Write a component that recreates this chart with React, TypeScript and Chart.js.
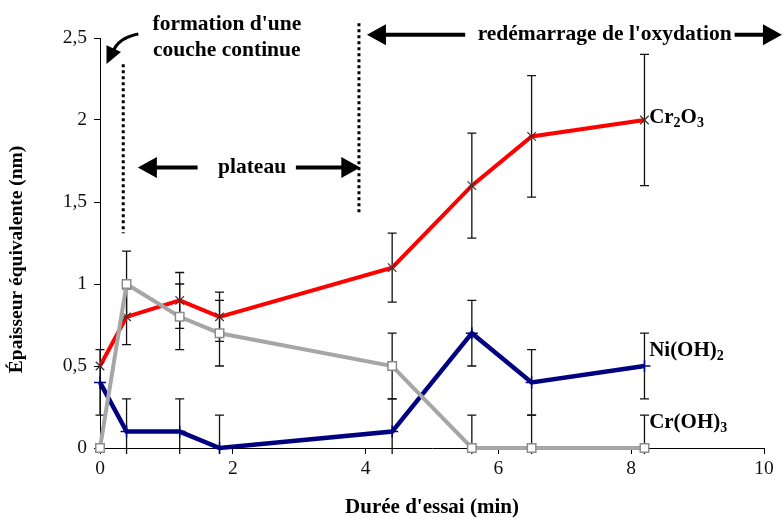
import React, { useEffect, useRef } from "react";
import { Chart, registerables } from "chart.js";

Chart.register(...registerables);

// ---- data ----
const times = [0, 0.4, 1.2, 1.8, 4.4, 5.6, 6.5, 8.2];
const cr2o3 = [0.5, 0.8, 0.9, 0.8, 1.1, 1.6, 1.9, 2.0];
const cr2o3Err = [0, 0.17, 0.17, 0.15, 0.21, 0.32, 0.37, 0.4];
const niOH2 = [0.4, 0.1, 0.1, 0, 0.1, 0.7, 0.4, 0.5];
const niOH2Err = [0.2, 0.2, 0.2, 0.2, 0.2, 0.2, 0.2, 0.2];
const crOH3 = [0, 1.0, 0.8, 0.7, 0.5, 0, 0, 0];
const crOH3Err = [0, 0.2, 0.2, 0.2, 0.2, 0.2, 0.2, 0.2];

const xMin = 0;
const xMax = 10;
const xStep = 2;
const yMin = 0;
const yMax = 2.5;
const yStep = 0.5;

const xTitle = "Durée d'essai (min)";
const yTitle = "Épaisseur équivalente (nm)";
const yTitleCenter = 1.15; // data units along the y axis

// annotation texts (data coordinates)
const annotTexts = [
  { text: "formation d'une", x: 1.91, y: 2.585 },
  { text: "couche continue", x: 1.91, y: 2.425 },
  { text: "plateau", x: 2.29, y: 1.71 },
  { text: "redémarrage de l'oxydation", x: 7.6, y: 2.52 },
];
const dottedLines = [
  { x: 0.35, y1: 2.34, y2: 1.31 },
  { x: 3.9, y1: 2.59, y2: 1.42 },
];
const straightArrows = [
  { x1: 1.47, y1: 1.71, x2: 0.57, y2: 1.71 },
  { x1: 2.95, y1: 1.71, x2: 3.92, y2: 1.71 },
  { x1: 5.5, y1: 2.52, x2: 4.02, y2: 2.52 },
  { x1: 9.5, y1: 2.52, x2: 10.27, y2: 2.52 },
];
const curvedArrow = { sx: 0.577, sy: 2.524, cx: 0.27, cy: 2.5, ex: 0.196, ey: 2.415, tx: 0.098, ty: 2.341 };

// series end labels: [text, isSubscript]
const seriesLabels = [
  { parts: [["Cr", false], ["2", true], ["O", false], ["3", true]], x: 8.27, y: 1.98 },
  { parts: [["Ni(OH)", false], ["2", true]], x: 8.27, y: 0.56 },
  { parts: [["Cr(OH)", false], ["3", true]], x: 8.27, y: 0.122 },
];

const FONT = "'Liberation Serif', 'Times New Roman', serif";

const errorBarPlugin = {
  id: "errorBars",
  beforeDatasetsDraw(chart: any) {
    const { ctx, chartArea, scales } = chart;
    const xs = scales.x;
    const ys = scales.y;
    ctx.save();
    ctx.beginPath();
    ctx.rect(chartArea.left - 10, chartArea.top - 60, chartArea.right - chartArea.left + 20, chartArea.bottom - chartArea.top + 66);
    ctx.clip();
    ctx.strokeStyle = "#111";
    ctx.lineWidth = 1.3;
    chart.data.datasets.forEach((ds: any) => {
      const errs = ds.errors as number[];
      if (!errs) return;
      ds.data.forEach((p: any, i: number) => {
        const e = errs[i];
        if (!e) return;
        const px = xs.getPixelForValue(p.x);
        const yt = ys.getPixelForValue(p.y + e);
        const yb = ys.getPixelForValue(p.y - e);
        ctx.beginPath();
        ctx.moveTo(px, yt);
        ctx.lineTo(px, yb);
        ctx.moveTo(px - 4.5, yt);
        ctx.lineTo(px + 4.5, yt);
        ctx.moveTo(px - 4.5, yb);
        ctx.lineTo(px + 4.5, yb);
        ctx.stroke();
      });
    });
    ctx.restore();
  },
};

function drawHead(ctx: CanvasRenderingContext2D, fx: number, fy: number, tx: number, ty: number, len: number, half: number) {
  const a = Math.atan2(ty - fy, tx - fx);
  const bx = tx - Math.cos(a) * len;
  const by = ty - Math.sin(a) * len;
  ctx.beginPath();
  ctx.moveTo(tx, ty);
  ctx.lineTo(bx + Math.cos(a + Math.PI / 2) * half, by + Math.sin(a + Math.PI / 2) * half);
  ctx.lineTo(bx - Math.cos(a + Math.PI / 2) * half, by - Math.sin(a + Math.PI / 2) * half);
  ctx.closePath();
  ctx.fill();
}

const annotationPlugin = {
  id: "annotations",
  afterDraw(chart: any) {
    const { ctx, scales } = chart;
    const X = (v: number) => scales.x.getPixelForValue(v);
    const Y = (v: number) => scales.y.getPixelForValue(v);
    ctx.save();
    ctx.fillStyle = "#000";
    ctx.strokeStyle = "#000";

    // y axis title
    ctx.save();
    ctx.translate(scales.y.left + 17, Y(yTitleCenter));
    ctx.rotate(-Math.PI / 2);
    ctx.font = `bold 19.5px ${FONT}`;
    ctx.textAlign = "center";
    ctx.textBaseline = "middle";
    ctx.fillText(yTitle, 0, 0);
    ctx.restore();

    // dotted lines
    ctx.lineWidth = 3;
    ctx.setLineDash([3, 3]);
    dottedLines.forEach((d) => {
      ctx.beginPath();
      ctx.moveTo(X(d.x), Y(d.y1));
      ctx.lineTo(X(d.x), Y(d.y2));
      ctx.stroke();
    });
    ctx.setLineDash([]);

    // straight arrows
    straightArrows.forEach((a) => {
      const x1 = X(a.x1), y1 = Y(a.y1), x2 = X(a.x2), y2 = Y(a.y2);
      const dir = Math.sign(x2 - x1);
      ctx.lineWidth = 4;
      ctx.beginPath();
      ctx.moveTo(x1, y1);
      ctx.lineTo(x2 - dir * 12, y2);
      ctx.stroke();
      drawHead(ctx, x1, y1, x2, y2, 19, 10.5);
    });

    // curved arrow
    {
      const c = curvedArrow;
      ctx.lineWidth = 3;
      ctx.beginPath();
      ctx.moveTo(X(c.sx), Y(c.sy));
      ctx.quadraticCurveTo(X(c.cx), Y(c.cy), X(c.ex), Y(c.ey));
      ctx.stroke();
      drawHead(ctx, X(c.ex) + 3, Y(c.ey) - 8, X(c.tx), Y(c.ty), 17, 8);
    }

    // texts
    ctx.font = `bold 21.5px ${FONT}`;
    ctx.textAlign = "center";
    ctx.textBaseline = "middle";
    annotTexts.forEach((t) => {
      const w = ctx.measureText(t.text).width;
      const cx = X(t.x), cy = Y(t.y);
      ctx.fillStyle = "#fff";
      ctx.fillRect(cx - w / 2 - 3, cy - 10, w + 6, 20);
      ctx.fillStyle = "#000";
      ctx.fillText(t.text, cx, cy);
    });

    // series labels
    ctx.textAlign = "left";
    ctx.textBaseline = "alphabetic";
    seriesLabels.forEach((l) => {
      let px = X(l.x);
      const py = Y(l.y);
      (l.parts as any[]).forEach(([txt, sub]) => {
        ctx.font = sub ? `bold 14px ${FONT}` : `bold 21px ${FONT}`;
        ctx.fillText(txt, px, sub ? py + 4 : py);
        px += ctx.measureText(txt).width;
      });
    });
    ctx.restore();
  },
};

const toPoints = (ys: number[]) => times.map((t, i) => ({ x: t, y: ys[i] }));

export default function App() {
  const ref = useRef<HTMLCanvasElement>(null);
  useEffect(() => {
    if (!ref.current) return;
    const chart = new Chart(ref.current, {
      type: "line",
      data: {
        datasets: [
          {
            label: "Cr(OH)3",
            data: toPoints(crOH3),
            errors: crOH3Err,
            borderColor: "#a6a6a6",
            borderWidth: 4,
            pointStyle: "rect",
            pointRadius: 6,
            pointBackgroundColor: "#ffffff",
            pointBorderColor: "#8c8c8c",
            pointBorderWidth: 1.5,
            tension: 0,
            clip: false,
          } as any,
          {
            label: "Ni(OH)2",
            data: toPoints(niOH2),
            errors: niOH2Err,
            borderColor: "#000080",
            borderWidth: 4.5,
            pointStyle: "cross",
            pointRadius: 6,
            pointBorderColor: "#000080",
            pointBorderWidth: 1.5,
            tension: 0,
            clip: false,
          } as any,
          {
            label: "Cr2O3",
            data: toPoints(cr2o3),
            errors: cr2o3Err,
            borderColor: "#ff0000",
            borderWidth: 4,
            pointStyle: "crossRot",
            pointRadius: 6,
            pointBorderColor: "#333333",
            pointBorderWidth: 1.2,
            tension: 0,
            clip: false,
          } as any,
        ],
      },
      options: {
        responsive: false,
        animation: false,
        devicePixelRatio: 1,
        layout: { padding: { left: 0, right: 19, top: 38, bottom: 0 } },
        plugins: { legend: { display: false }, tooltip: { enabled: false } },
        scales: {
          x: {
            type: "linear",
            min: xMin,
            max: xMax,
            afterFit: (s: any) => { s.height = 70; },
            ticks: { stepSize: xStep, color: "#111", font: { family: FONT, size: 19.5 }, padding: 3, maxRotation: 0 },
            grid: { drawOnChartArea: false, drawTicks: true, tickLength: 6, color: "#000" },
            border: { display: true, color: "#000", width: 1 },
            title: { display: true, text: xTitle, color: "#000", font: { family: FONT, size: 21, weight: "bold" }, padding: { top: 0, bottom: -2 } },
          },
          y: {
            type: "linear",
            min: yMin,
            max: yMax,
            afterFit: (s: any) => { s.width = 100; },
            ticks: {
              stepSize: yStep,
              color: "#111",
              font: { family: FONT, size: 19.5 },
              padding: 7,
              callback: (v: any) => String(v).replace(".", ","),
            },
            grid: { drawOnChartArea: false, drawTicks: true, tickLength: 6, color: "#000" },
            border: { display: true, color: "#000", width: 1 },
            title: { display: false },
          },
        },
      } as any,
      plugins: [errorBarPlugin, annotationPlugin],
    });
    return () => chart.destroy();
  }, []);
  return (
    <div style={{ position: "fixed", left: 0, top: 0, width: 783, height: 518, background: "#fff" }}>
      <canvas ref={ref} width={783} height={518} style={{ display: "block" }} />
    </div>
  );
}
